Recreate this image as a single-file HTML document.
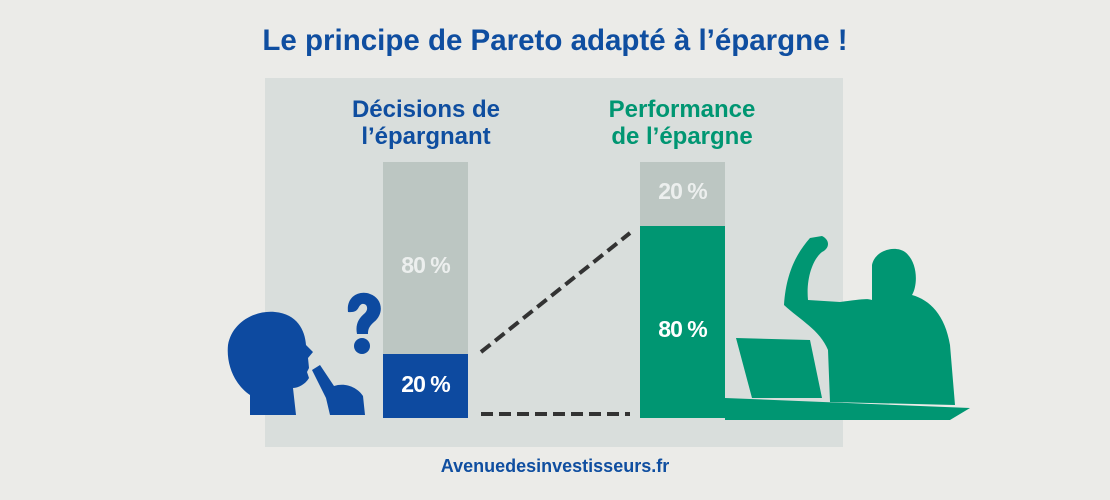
<!DOCTYPE html>
<html><head><meta charset="utf-8"><style>
body{margin:0;width:1110px;height:500px;background:#ebebe8;font-family:"Liberation Sans",sans-serif;overflow:hidden;position:relative}
.t{position:absolute;font-weight:bold;white-space:nowrap}
</style></head><body>
<div class="t" style="left:0;width:1110px;text-align:center;top:24px;font-size:29.5px;color:#0f4ea0">Le principe de Pareto adapté à l’épargne !</div>
<div style="position:absolute;left:265px;top:78px;width:578px;height:369px;background:#d9dedc"></div>
<div class="t" style="left:326px;width:200px;text-align:center;top:96px;font-size:24px;line-height:27px;color:#0f4ea0">Décisions de<br>l’épargnant</div>
<div class="t" style="left:582px;width:200px;text-align:center;top:96px;font-size:24px;line-height:27px;color:#009672">Performance<br>de l’épargne</div>
<div style="position:absolute;left:383px;top:162px;width:85px;height:192px;background:#bcc6c2"></div>
<div style="position:absolute;left:383px;top:354px;width:85px;height:64px;background:#0d4aa0"></div>
<div style="position:absolute;left:640px;top:162px;width:85px;height:64px;background:#bcc6c2"></div>
<div style="position:absolute;left:640px;top:226px;width:85px;height:192px;background:#009672"></div>
<div class="t" style="left:383px;width:85px;text-align:center;top:252px;font-size:23px;color:#ecefee;letter-spacing:-1px">80 %</div>
<div class="t" style="left:383px;width:85px;text-align:center;top:371px;font-size:23px;color:#fff;letter-spacing:-1px">20 %</div>
<div class="t" style="left:640px;width:85px;text-align:center;top:178px;font-size:23px;color:#ecefee;letter-spacing:-1px">20 %</div>
<div class="t" style="left:640px;width:85px;text-align:center;top:316px;font-size:23px;color:#fff;letter-spacing:-1px">80 %</div>
<div class="t" style="left:0;width:1110px;text-align:center;top:456px;font-size:18px;color:#0f4ea0">Avenuedesinvestisseurs.fr</div>
<svg width="1110" height="500" style="position:absolute;left:0;top:0">
<g stroke="#333" stroke-width="4" stroke-dasharray="12,6">
<line x1="481" y1="352" x2="630" y2="233"/>
<line x1="481" y1="414" x2="630" y2="414"/>
</g>
<g fill="#0d4aa0">
<path d="M250,415 L250,395 C235,385 226,365 228,345 C232,322 255,310 275,312 C297,314 305,330 306,345 L313,352 L308,358 L309,368 L307,372 L309,378 C305,385 297,388 293,388 L296,415 Z"/>
<path d="M312,370 L320,365 L334,386 C346,382 358,388 363,396 L365,415 L330,415 L326,398 Z"/>
<path d="M348,312 C346,296 360,290 370,294 C382,298 385,313 374,322 C368,327 368,331 368,334 L357,334 C355,324 359,318 365,313 C369,309 367,303 362,304 C357,306 360,313 348,312 Z"/>
<circle cx="362" cy="346" r="8"/>
</g>
<g fill="#009672">
<path d="M725,398 L970,408 L950,420 L725,420 Z"/>
<path d="M736,338 L810,340 L822,398 L752,398 Z"/>
<path d="M784,305 C786,275 795,255 810,238 L822,236 C830,240 830,248 822,252 C812,260 806,280 808,300 L840,302 C858,300 866,298 872,300 L872,265 C875,250 895,245 905,252 C918,262 918,285 912,295 C930,300 945,315 950,345 L955,405 L830,402 L828,350 C820,330 800,320 784,305 Z"/>
</g>
</svg>
</body></html>
